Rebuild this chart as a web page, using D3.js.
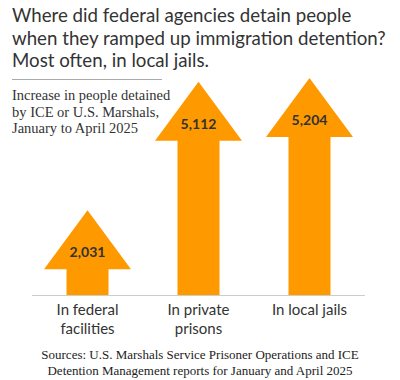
<!DOCTYPE html>
<html>
<head>
<meta charset="utf-8">
<script src="https://cdn.jsdelivr.net/npm/d3@7"></script>
<style>
    body { margin: 0; background: #fff; }
    svg { display: block; }
</style>
</head>
<body>
<script>
// data
var categories = ["federal", "private", "local"];
var increases = [2031, 5112, 5204];
var labelLines = [["In federal", "facilities"], ["In private", "prisons"], ["In local jails"]];
var titleLines = ["Where did federal agencies detain people",
    "when they ramped up immigration detention?",
    "Most often, in local jails."];
var subtitleLines = ["Increase in people detained",
    "by ICE or U.S. Marshals,",
    "January to April 2025"];
var sourceLines = ["Sources: U.S. Marshals Service Prisoner Operations and ICE",
    "Detention Management reports for January and April 2025"];

window.onload = drawChart();

function drawChart() {
    var width = 400,
        height = 380;

    var svg = d3.select("body")
        .append("svg")
        .attr("width", width)
        .attr("height", height);

    var sans = "Lato, 'Open Sans', sans-serif",
        serif = "'Liberation Serif', 'Times New Roman', serif",
        orange = "#ff9900";

    // title
    svg.append("g").selectAll("text")
        .data(titleLines)
        .enter()
        .append("text")
        .attr("x", 12)
        .attr("y", function(d, i) { return 22 + i * 22.5; })
        .attr("font-family", sans)
        .attr("font-size", 18.7)
        .attr("fill", "#333")
        .text(function(d) { return d; });

    svg.append("line")
        .attr("x1", 12).attr("x2", 162)
        .attr("y1", 79.5).attr("y2", 79.5)
        .attr("stroke", "#aaa")
        .attr("stroke-width", 1);

    svg.append("g").selectAll("text")
        .data(subtitleLines)
        .enter()
        .append("text")
        .attr("x", 12)
        .attr("y", function(d, i) { return 100 + i * 16.5; })
        .attr("font-family", serif)
        .attr("font-size", 14.5)
        .attr("fill", "#333")
        .text(function(d) { return d; });

    // scales
    var x = d3.scaleBand()
        .domain(categories)
        .range([32, 365]);

    var y = d3.scaleLinear()
        .domain([0, 5204])
        .range([295, 78]);

    var shaftW = 42,
        headW = 87,
        headH = 59;

    function arrowPath(d, i) {
        var cx = x(categories[i]) + x.bandwidth() / 2,
            tip = y(d),
            base = y(0),
            hb = tip + headH;
        return "M" + cx + "," + tip +
            "L" + (cx + headW / 2) + "," + hb +
            "L" + (cx + shaftW / 2) + "," + hb +
            "L" + (cx + shaftW / 2) + "," + base +
            "L" + (cx - shaftW / 2) + "," + base +
            "L" + (cx - shaftW / 2) + "," + hb +
            "L" + (cx - headW / 2) + "," + hb + "Z";
    }

    svg.append("g").selectAll("path")
        .data(increases)
        .enter()
        .append("path")
        .attr("d", arrowPath)
        .attr("fill", orange);

    svg.append("g").selectAll("text")
        .data(increases)
        .enter()
        .append("text")
        .attr("x", function(d, i) { return x(categories[i]) + x.bandwidth() / 2; })
        .attr("y", function(d) { return y(d) + headH - 12; })
        .attr("text-anchor", "middle")
        .attr("font-family", sans)
        .attr("font-weight", "bold")
        .attr("font-size", 14)
        .attr("fill", "#333")
        .text(function(d) { return d3.format(",")(d); });

    // baseline
    svg.append("line")
        .attr("x1", 32).attr("x2", 365)
        .attr("y1", y(0) + 0.5).attr("y2", y(0) + 0.5)
        .attr("stroke", "#ccc")
        .attr("stroke-width", 1);

    // category labels
    var labels = svg.append("g").selectAll("text")
        .data(labelLines)
        .enter()
        .append("text")
        .attr("text-anchor", "middle")
        .attr("font-family", sans)
        .attr("font-size", 15)
        .attr("fill", "#333");

    labels.selectAll("tspan")
        .data(function(d, i) {
            return d.map(function(t) { return { t: t, c: categories[i] }; });
        })
        .enter()
        .append("tspan")
        .attr("x", function(d) { return x(d.c) + x.bandwidth() / 2; })
        .attr("y", function(d, j) { return 315 + j * 19; })
        .text(function(d) { return d.t; });

    // sources
    svg.append("g").selectAll("text")
        .data(sourceLines)
        .enter()
        .append("text")
        .attr("x", 200)
        .attr("y", function(d, i) { return 359 + i * 15.5; })
        .attr("text-anchor", "middle")
        .attr("font-family", serif)
        .attr("font-size", 13)
        .attr("fill", "#222")
        .text(function(d) { return d; });
}
</script>
</body>
</html>
